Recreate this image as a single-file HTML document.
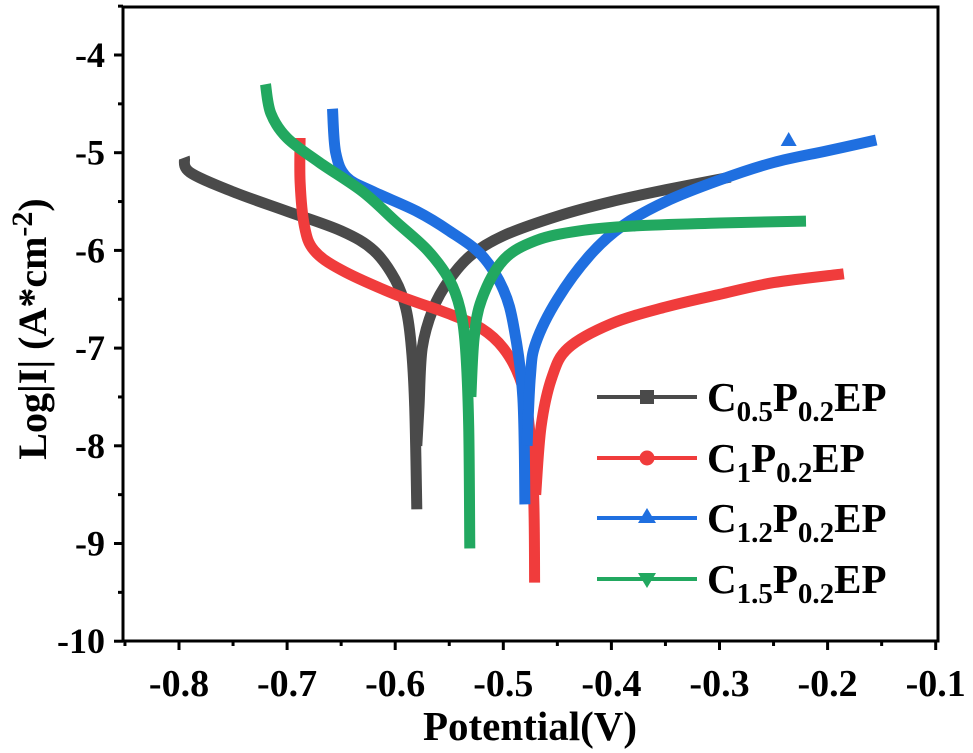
<!DOCTYPE html>
<html><head><meta charset="utf-8"><style>
html,body{margin:0;padding:0;background:#fff;}
svg{display:block;font-family:"Liberation Serif",serif;font-weight:bold;}
</style></head><body>
<svg id="chart" width="973" height="753" viewBox="0 0 973 753"></svg>
<script>
const xTicks = [-0.8,-0.7,-0.6,-0.5,-0.4,-0.3,-0.2,-0.1];
const yTicks = [-4,-5,-6,-7,-8,-9,-10];
const seriesNames = ["C0.5P0.2EP","C1P0.2EP","C1.2P0.2EP","C1.5P0.2EP"];
const seriesColors = ["#4a4a4a","#f03c3c","#1f6fe0","#22a860"];
const s1E = [-0.795,-0.79,-0.75,-0.7,-0.65,-0.62,-0.6,-0.59,-0.585,-0.582,-0.58];
const s1L = [-5.05,-5.2,-5.4,-5.6,-5.8,-6.0,-6.3,-6.6,-7.0,-7.6,-8.65];
const s1aE = [-0.58,-0.578,-0.575,-0.565,-0.55,-0.53,-0.5,-0.45,-0.4,-0.35,-0.29];
const s1aL = [-8.0,-7.6,-7.0,-6.6,-6.3,-6.05,-5.85,-5.65,-5.5,-5.38,-5.25];
const s2E = [-0.688,-0.688,-0.684,-0.675,-0.65,-0.6,-0.55,-0.52,-0.5,-0.485,-0.477,-0.472,-0.471];
const s2L = [-4.85,-5.3,-5.75,-6.0,-6.2,-6.45,-6.65,-6.8,-7.0,-7.3,-7.7,-8.5,-9.4];
const s2aE = [-0.47,-0.465,-0.455,-0.44,-0.4,-0.35,-0.3,-0.25,-0.185];
const s2aL = [-8.5,-7.8,-7.3,-7.0,-6.75,-6.58,-6.45,-6.33,-6.24];
const s3E = [-0.658,-0.655,-0.645,-0.62,-0.58,-0.55,-0.52,-0.5,-0.49,-0.482,-0.48];
const s3L = [-4.55,-5.0,-5.25,-5.4,-5.6,-5.8,-6.05,-6.4,-6.8,-7.5,-8.6];
const s3aE = [-0.478,-0.475,-0.47,-0.45,-0.42,-0.39,-0.35,-0.3,-0.25,-0.2,-0.155];
const s3aL = [-8.0,-7.3,-6.95,-6.5,-6.05,-5.75,-5.5,-5.28,-5.1,-4.98,-4.87];
const s4E = [-0.72,-0.715,-0.7,-0.67,-0.63,-0.6,-0.57,-0.55,-0.54,-0.535,-0.532,-0.531];
const s4L = [-4.3,-4.6,-4.85,-5.1,-5.4,-5.7,-6.0,-6.3,-6.6,-7.0,-7.8,-9.05];
const s4aE = [-0.53,-0.527,-0.52,-0.5,-0.47,-0.43,-0.38,-0.3,-0.22];
const s4aL = [-7.5,-6.9,-6.5,-6.1,-5.9,-5.8,-5.75,-5.72,-5.7];

const NS="http://www.w3.org/2000/svg";
const svg=document.getElementById('chart');
const X0=123,X1=938,Y0=7,Y1=641;
function xs(v){return 179+(v+0.8)*1081;}
function ys(v){return 55+(-4-v)*97.7;}
function mk(tag,attrs,parent){const e=document.createElementNS(NS,tag);for(const k in attrs)e.setAttribute(k,attrs[k]);(parent||svg).appendChild(e);return e;}
function smoothPath(P){
  let d='M'+P[0][0].toFixed(1)+','+P[0][1].toFixed(1);
  for(let i=0;i<P.length-1;i++){
    const p0=P[Math.max(0,i-1)],p1=P[i],p2=P[i+1],p3=P[Math.min(P.length-1,i+2)];
    const c1=[p1[0]+(p2[0]-p0[0])/6,p1[1]+(p2[1]-p0[1])/6];
    const c2=[p2[0]-(p3[0]-p1[0])/6,p2[1]-(p3[1]-p1[1])/6];
    d+=' C'+c1.map(v=>v.toFixed(1)).join(',')+' '+c2.map(v=>v.toFixed(1)).join(',')+' '+p2[0].toFixed(1)+','+p2[1].toFixed(1);
  }
  return d;
}

const branches=[[s1E,s1L,s1aE,s1aL],[s2E,s2L,s2aE,s2aL],[s3E,s3L,s3aE,s3aL],[s4E,s4L,s4aE,s4aL]];
branches.forEach((b,i)=>{
  for(let k=0;k<2;k++){
    const E=b[k*2],L=b[k*2+1];
    const P=E.map((e,j)=>[xs(e),ys(L[j])]);
    const pl=mk('path',{d:smoothPath(P),fill:'none',stroke:seriesColors[i],'stroke-width':11,'stroke-linejoin':'round','stroke-linecap':'butt'});
    
    
  }
});
const tri=mk('polygon',{points:`${xs(-0.236)},${ys(-4.88)-9} ${xs(-0.236)-8},${ys(-4.88)+5} ${xs(-0.236)+8},${ys(-4.88)+5}`,fill:seriesColors[2]});



const fr=mk('rect',{x:X0,y:Y0,width:X1-X0,height:Y1-Y0,fill:'none',stroke:'#000','stroke-width':3});



xTicks.forEach((t,i)=>{
  const x=xs(t);
  mk('line',{x1:x,y1:Y1,x2:x,y2:Y1+9,stroke:'#000','stroke-width':3});
  if(i<xTicks.length-1){const xm=xs(t+0.05);mk('line',{x1:xm,y1:Y1,x2:xm,y2:Y1+5,stroke:'#000','stroke-width':3});}
  const tx=mk('text',{x:x,y:696,'text-anchor':'middle','font-size':38});
  tx.textContent=t.toFixed(1);
  
  
});
mk('line',{x1:xs(-0.85),y1:Y1,x2:xs(-0.85),y2:Y1+5,stroke:'#000','stroke-width':3});
yTicks.forEach((t,i)=>{
  const y=ys(t);
  mk('line',{x1:X0-9,y1:y,x2:X0,y2:y,stroke:'#000','stroke-width':3});
  const ym=ys(t+0.5);mk('line',{x1:X0-5,y1:ym,x2:X0,y2:ym,stroke:'#000','stroke-width':3});
  const tx=mk('text',{x:105,y:y+12,'text-anchor':'end','font-size':36});
  tx.textContent=String(t);
  
  
});
</script>
<svg width="973" height="753" style="position:absolute;left:0;top:0;font-family:'Liberation Serif',serif;font-weight:bold">
<text x="530" y="740" text-anchor="middle" font-size="41">Potential(V)</text>
<text transform="translate(46,329) rotate(-90)" text-anchor="middle" font-size="40">Log|I| (A*cm<tspan dy="-14" font-size="30">-2</tspan><tspan dy="14">)</tspan></text>
<g font-size="41">
 <g>
  <line x1="597" y1="397" x2="697" y2="397" stroke="#4a4a4a" stroke-width="4"/>
  <rect x="640" y="390" width="14" height="14" fill="#4a4a4a"/>
  <text x="707" y="411">C<tspan dy="10" font-size="29">0.5</tspan><tspan dy="-10">P</tspan><tspan dy="10" font-size="29">0.2</tspan><tspan dy="-10">EP</tspan></text>
 </g>
 <g>
  <line x1="597" y1="458" x2="697" y2="458" stroke="#f03c3c" stroke-width="4"/>
  <circle cx="647" cy="458" r="7.5" fill="#f03c3c"/>
  <text x="707" y="472">C<tspan dy="10" font-size="29">1</tspan><tspan dy="-10">P</tspan><tspan dy="10" font-size="29">0.2</tspan><tspan dy="-10">EP</tspan></text>
 </g>
 <g>
  <line x1="597" y1="518" x2="697" y2="518" stroke="#1f6fe0" stroke-width="4"/>
  <polygon points="647,508 638,523 656,523" fill="#1f6fe0"/>
  <text x="707" y="532">C<tspan dy="10" font-size="29">1.2</tspan><tspan dy="-10">P</tspan><tspan dy="10" font-size="29">0.2</tspan><tspan dy="-10">EP</tspan></text>
 </g>
 <g>
  <line x1="597" y1="579" x2="697" y2="579" stroke="#22a860" stroke-width="4"/>
  <polygon points="638,573 656,573 647,588" fill="#22a860"/>
  <text x="707" y="593">C<tspan dy="10" font-size="29">1.5</tspan><tspan dy="-10">P</tspan><tspan dy="10" font-size="29">0.2</tspan><tspan dy="-10">EP</tspan></text>
 </g>
</g>
</svg>
</body></html>
